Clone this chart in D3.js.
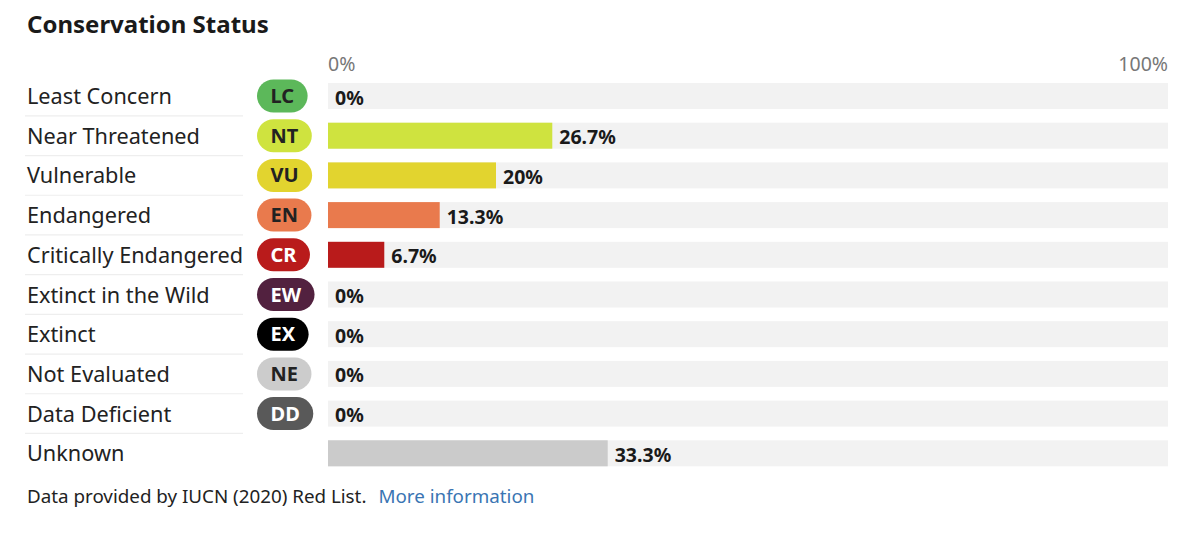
<!DOCTYPE html>
<html>
<head>
<meta charset="utf-8">
<script src="https://cdn.jsdelivr.net/npm/d3@7"></script>
<style>
  body { margin: 0; background: #fff; }
  svg { display: block; font-family: "Noto Sans", "Open Sans", sans-serif; }
</style>
</head>
<body>
<div id="chart"></div>
<script>
// Chart data
const categories = ["Least Concern", "Near Threatened", "Vulnerable", "Endangered", "Critically Endangered",
  "Extinct in the Wild", "Extinct", "Not Evaluated", "Data Deficient", "Unknown"];
const codes = ["LC", "NT", "VU", "EN", "CR", "EW", "EX", "NE", "DD", null];
const percents = [0, 26.7, 20, 13.3, 6.7, 0, 0, 0, 0, 33.3];
const colors = ["#5cb85a", "#cfe33f", "#e2d42f", "#e97a4d", "#b91b1b", "#52213f", "#000000", "#cccccc", "#595959", "#cbcbcb"];
const badgeText = ["#222", "#222", "#222", "#222", "#fff", "#fff", "#fff", "#222", "#fff", null];
const axisTicks = [0, 100];

const W = 1192, H = 534;
const svg = d3.select("#chart").append("svg")
  .attr("width", W)
  .attr("height", H);

const x = d3.scaleLinear().domain([0, 100]).range([328, 1168]);
const y = d3.scalePoint().domain(categories).range([96, 453.3]);
const step = y.step();
const barH = 26;

// title
svg.append("text")
  .attr("x", 27).attr("y", 33)
  .attr("font-size", 24).attr("font-weight", 700)
  .attr("fill", "#1a1a1a")
  .text("Conservation Status");

// top axis labels
svg.selectAll("text.tick").data(axisTicks).enter()
  .append("text")
  .attr("class", "tick")
  .attr("x", d => x(d))
  .attr("y", 71)
  .attr("text-anchor", (d, i) => i === 0 ? "start" : "end")
  .attr("font-size", 19.5)
  .attr("fill", "#777")
  .text(d => d + "%");

const rows = svg.selectAll("g.row").data(categories).enter()
  .append("g")
  .attr("class", "row")
  .attr("transform", d => `translate(0,${y(d)})`);

// category names
rows.append("text")
  .attr("x", 27).attr("y", 8)
  .attr("font-size", 21.7)
  .attr("fill", "#222")
  .text(d => d);

// separators under the names
rows.filter((d, i) => i < categories.length - 1)
  .append("line")
  .attr("x1", 25).attr("x2", 243)
  .attr("y1", step / 2).attr("y2", step / 2)
  .attr("stroke", "#eeeeee")
  .attr("stroke-width", 1.2);

// badges
const badges = rows.filter((d, i) => codes[i] !== null).append("g");
badges.each(function (d) {
  const i = categories.indexOf(d);
  const g = d3.select(this);
  const rect = g.append("rect")
    .attr("y", -16.5).attr("height", 33)
    .attr("rx", 16.5)
    .attr("fill", colors[i]);
  const t = g.append("text")
    .attr("y", 7)
    .attr("text-anchor", "middle")
    .attr("font-size", 20).attr("font-weight", 700)
    .attr("fill", badgeText[i])
    .text(codes[i]);
  const w = t.node().getComputedTextLength() + 27;
  rect.attr("x", 257).attr("width", w);
  t.attr("x", 257 + w / 2);
});

// track
rows.append("rect")
  .attr("x", x(0)).attr("y", -barH / 2)
  .attr("width", x(100) - x(0)).attr("height", barH)
  .attr("fill", "#f2f2f2");

// value bars
rows.append("rect")
  .attr("x", x(0)).attr("y", -barH / 2)
  .attr("width", (d, i) => x(percents[i]) - x(0)).attr("height", barH)
  .attr("fill", (d, i) => colors[i]);

// value labels
rows.append("text")
  .attr("x", (d, i) => x(percents[i]) + 7)
  .attr("y", 8.5)
  .attr("font-size", 19.5).attr("font-weight", 700)
  .attr("fill", "#1a1a1a")
  .text((d, i) => percents[i] + "%");

// footer
const foot = svg.append("text")
  .attr("x", 27).attr("y", 503)
  .attr("font-size", 18.8)
  .attr("fill", "#222");
foot.append("tspan").text("Data provided by IUCN (2020) Red List.");
foot.append("tspan").attr("dx", 12).attr("fill", "#3a75b3").text("More information");
</script>
</body>
</html>
